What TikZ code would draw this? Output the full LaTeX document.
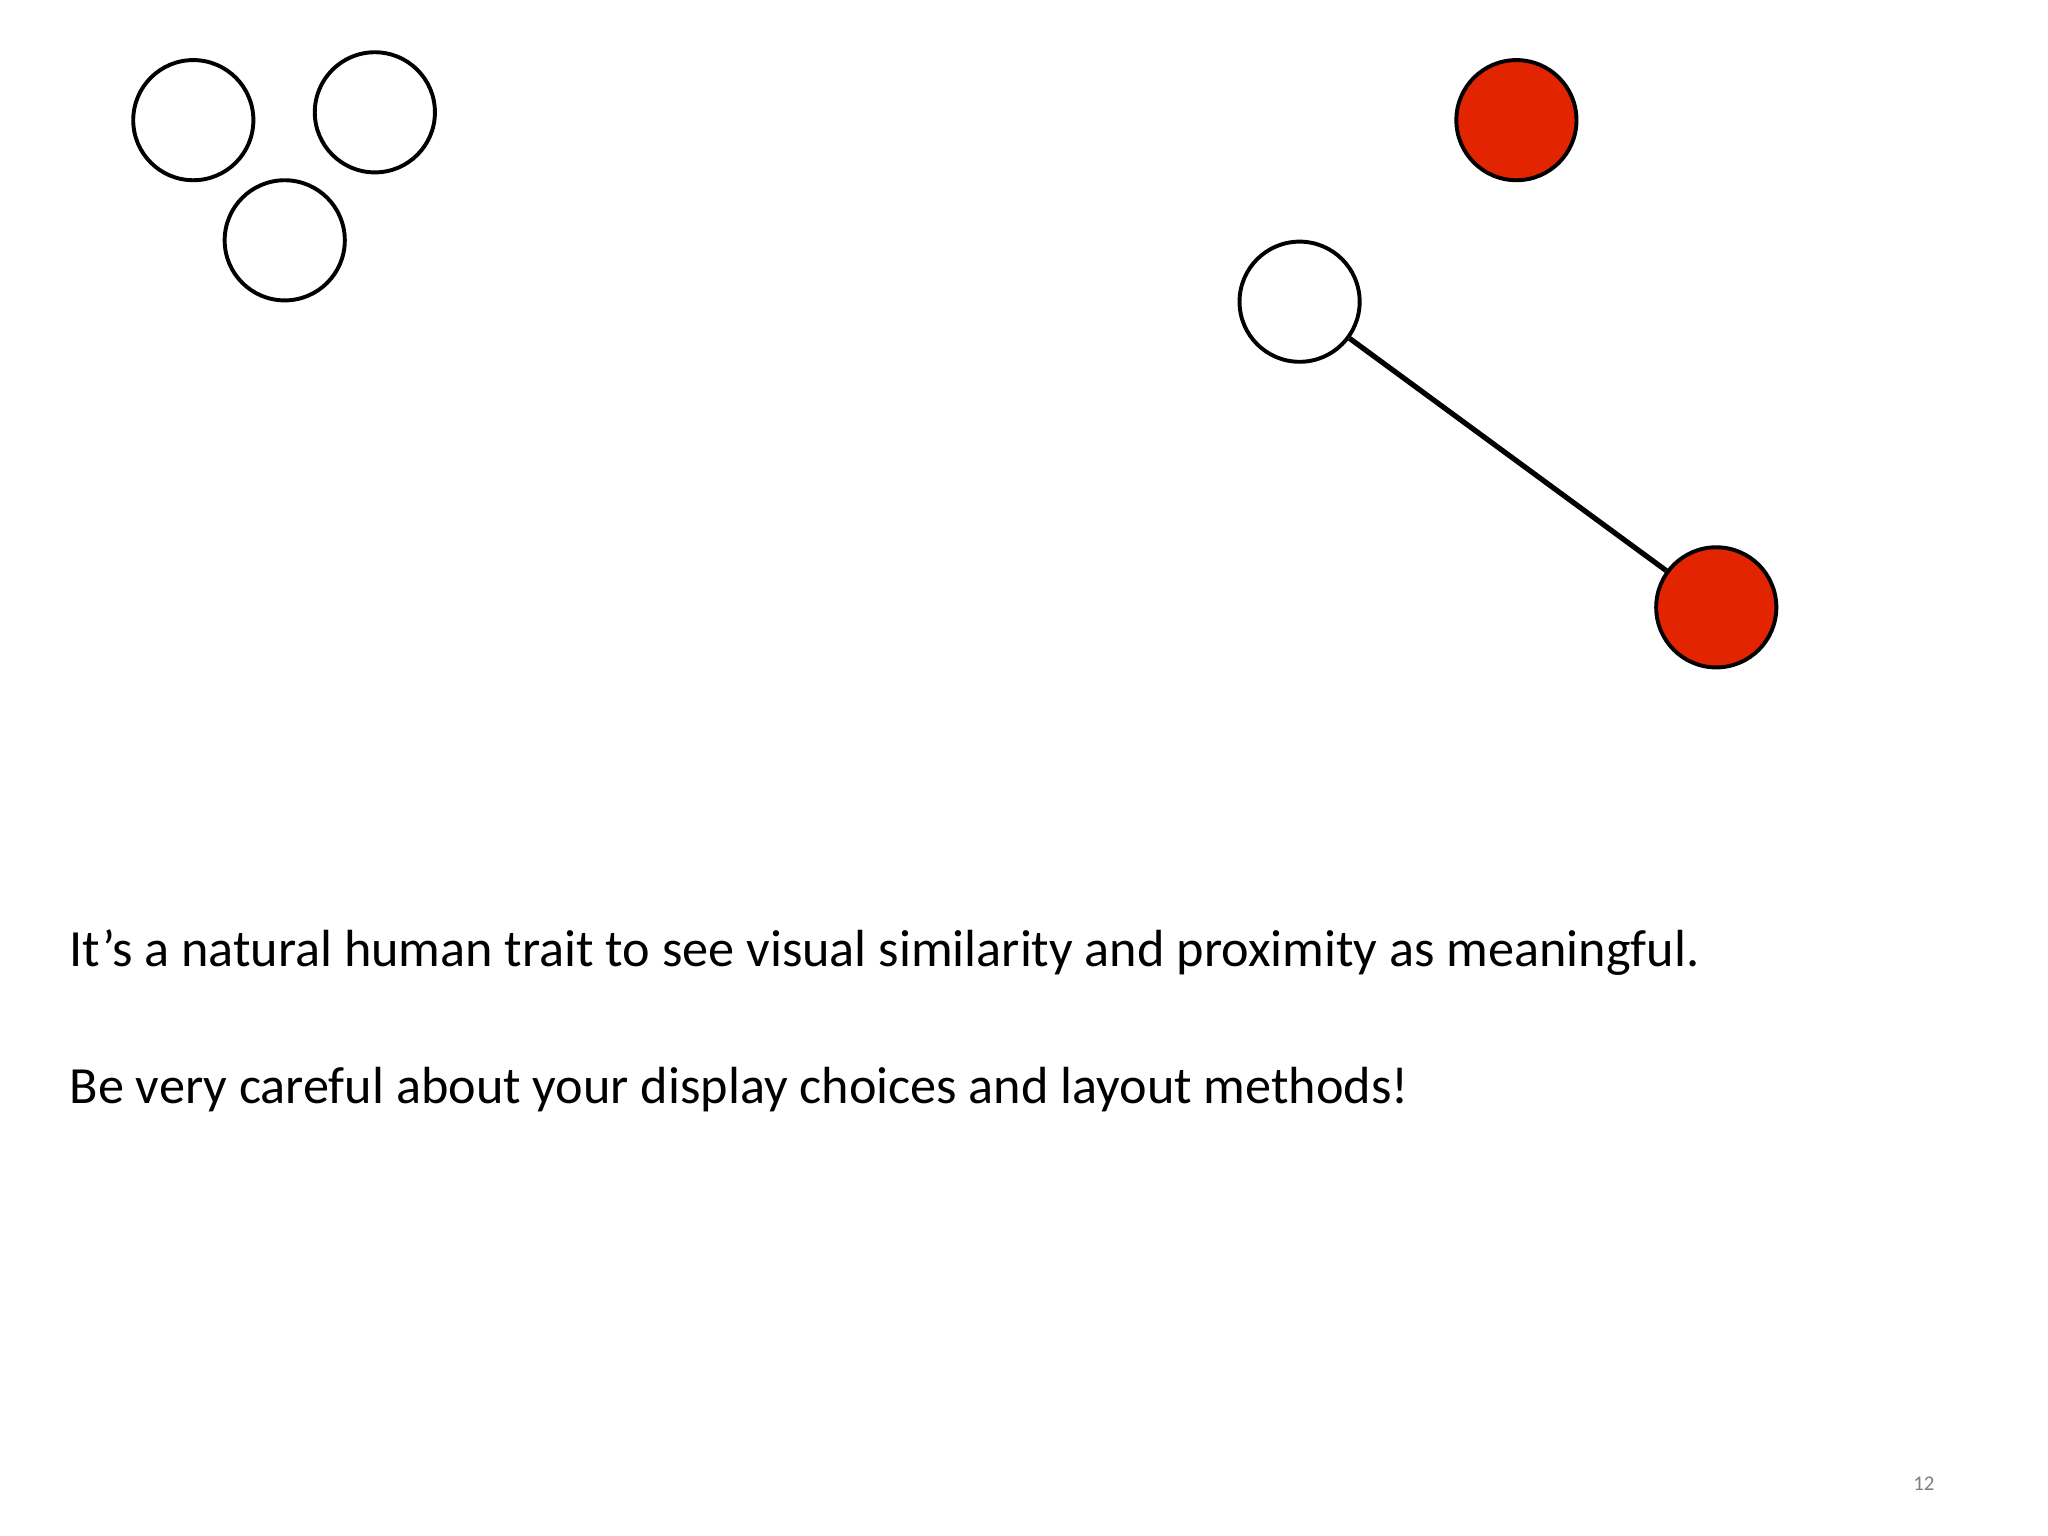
\documentclass[tikz,border=0pt]{standalone}
\usepackage{fontspec}
\setmainfont{Carlito}
\begin{document}
\begin{tikzpicture}[x=0.5pt,y=-0.5pt,
  dot/.style={circle,draw=black,line width=1.5pt,minimum size=46pt,inner sep=0pt,fill=white},
  reddot/.style={dot,fill=redc},
  txt/.style={anchor=base west,inner sep=0pt,font=\fontsize{20}{24}\selectfont}]
\definecolor{redc}{HTML}{E32400}
\useasboundingbox[fill=white] (0,0) rectangle (1568,1176);
\node[dot] (a) at (148,92) {};
\node[dot] (b) at (287,86) {};
\node[dot] (c) at (218,184) {};
\node[reddot] (r1) at (1161,92) {};
\node[dot] (w) at (995,231) {};
\node[reddot] (r2) at (1314,465) {};
\draw[line width=2pt] (w) -- (r2);
\node[txt] (t1) at (53,740) {It’s a natural human trait to see visual similarity and proximity as meaningful.};
\node[txt] (t2) at (53,845) {Be very careful about your display choices and layout methods!};
\node[anchor=base,inner sep=0pt,font=\fontsize{8}{10}\selectfont,text=gray] (n) at (1473,1141) {12};
\end{tikzpicture}
\end{document}
